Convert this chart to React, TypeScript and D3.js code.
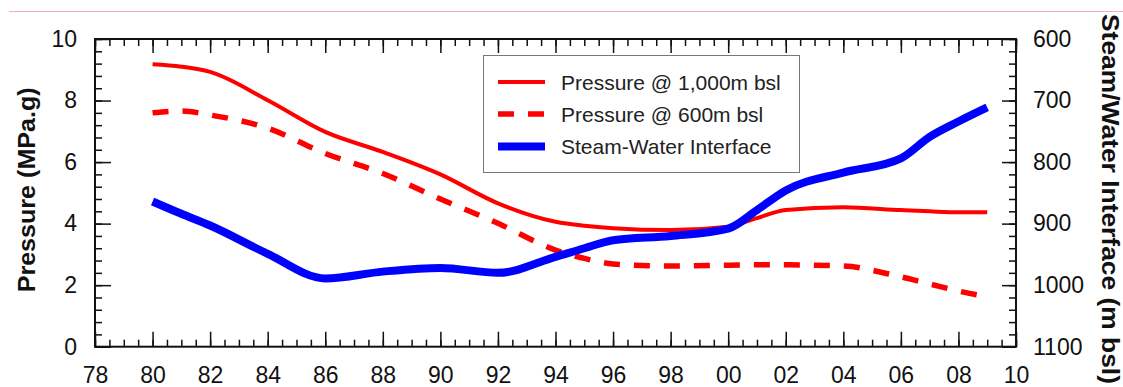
import { useEffect, useRef } from 'react'
import * as d3 from 'd3'

// values
const years = [
  1980, 1981, 1982, 1984, 1986, 1988, 1990, 1992, 1994, 1995, 1996, 1998, 2000,
  2001, 2002, 2004, 2006, 2007, 2008, 2009,
]
const pressure1000 = [
  9.18, 9.1, 8.93, 8.01, 6.98, 6.33, 5.6, 4.66, 4.06, 3.93, 3.85, 3.79, 3.9,
  4.18, 4.44, 4.53, 4.44, 4.4, 4.37, 4.37,
]
const pressure600 = [
  7.6, 7.66, 7.53, 7.1, 6.28, 5.63, 4.8, 4.01, 3.14, 2.87, 2.69, 2.62, 2.65,
  2.66, 2.66, 2.62, 2.27, 2.04, 1.81, 1.62,
]
const interfaceDepth = [
  864, 884, 903, 949, 989, 978, 972, 980, 954, 940, 927, 920, 908, 878, 846,
  817, 794, 759, 734, 711,
]

const xTicks = [
  1978, 1980, 1982, 1984, 1986, 1988, 1990, 1992, 1994, 1996, 1998, 2000, 2002,
  2004, 2006, 2008, 2010,
]
const leftTicks = [0, 2, 4, 6, 8, 10]
const rightTicks = [600, 700, 800, 900, 1000, 1100]

const legendItems = [
  { label: 'Pressure @ 1,000m bsl', color: '#ff0000', width: 4, dash: '' },
  { label: 'Pressure @ 600m bsl', color: '#ff0000', width: 5.5, dash: '16,14' },
  { label: 'Steam-Water Interface', color: '#0000ff', width: 8, dash: '' },
]

const width = 1123
const height = 387
const font = "'Liberation Sans', Arial, Helvetica, sans-serif"

export default function App() {
  const svgRef = useRef<SVGSVGElement>(null)

  useEffect(() => {
    if (!svgRef.current) return
    const svg = d3.select(svgRef.current)
    svg.selectAll('*').remove()

    const left = 95
    const right = 1016
    const top = 39
    const bottom = 346.7

    const x = d3.scaleLinear().domain([1978, 2010]).range([left, right])
    const yP = d3.scaleLinear().domain([0, 10]).range([bottom, top])
    const yD = d3.scaleLinear().domain([600, 1100]).range([top, bottom])

    // pink rule along the top of the page
    svg
      .append('line')
      .attr('x1', 9)
      .attr('x2', width)
      .attr('y1', 11.5)
      .attr('y2', 11.5)
      .attr('stroke', '#f4a6d8')
      .attr('stroke-width', 1)

    // Series
    const rows = years.map((yr, i) => ({
      year: yr,
      p1000: pressure1000[i],
      p600: pressure600[i],
      depth: interfaceDepth[i],
    }))
    type Row = (typeof rows)[number]

    const lineP1000 = d3
      .line<Row>()
      .x((d) => x(d.year))
      .y((d) => yP(d.p1000))
      .curve(d3.curveMonotoneX)
    const lineP600 = d3
      .line<Row>()
      .x((d) => x(d.year))
      .y((d) => yP(d.p600))
      .curve(d3.curveMonotoneX)
    const lineDepth = d3
      .line<Row>()
      .x((d) => x(d.year))
      .y((d) => yD(d.depth))
      .curve(d3.curveMonotoneX)

    svg
      .append('path')
      .datum(rows)
      .attr('fill', 'none')
      .attr('stroke', '#ff0000')
      .attr('stroke-width', 4)
      .attr('d', lineP1000)

    svg
      .append('path')
      .datum(rows)
      .attr('fill', 'none')
      .attr('stroke', '#ff0000')
      .attr('stroke-width', 5.5)
      .attr('stroke-dasharray', '16,14')
      .attr('d', lineP600)

    svg
      .append('path')
      .datum(rows)
      .attr('fill', 'none')
      .attr('stroke', '#0000ff')
      .attr('stroke-width', 8)
      .attr('d', lineDepth)

    // Frame
    svg
      .append('rect')
      .attr('x', left)
      .attr('y', top)
      .attr('width', right - left)
      .attr('height', bottom - top)
      .attr('fill', 'none')
      .attr('stroke', '#111')
      .attr('stroke-width', 2)

    const style = (g: d3.Selection<SVGGElement, unknown, null, undefined>) => {
      g.select('.domain').remove()
      g.selectAll('.tick line').attr('stroke', '#111').attr('stroke-width', 1.5)
      g.selectAll('.tick text')
        .attr('font-family', font)
        .attr('font-size', 23)
        .attr('fill', '#111')
    }

    const minorX = d3.range(1978, 2010.01, 0.5)
    const minorP = d3.range(0, 10.01, 0.4)
    const minorD = d3.range(600, 1100.1, 20)
    const noLabel = () => ''

    // Bottom
    svg
      .append('g')
      .attr('transform', `translate(0,${bottom})`)
      .call(d3.axisBottom(x).tickValues(minorX).tickSize(-7).tickFormat(noLabel))
      .call(style)
    svg
      .append('g')
      .attr('transform', `translate(0,${bottom})`)
      .call(
        d3
          .axisBottom(x)
          .tickValues(xTicks)
          .tickSize(-15)
          .tickPadding(19.5)
          .tickFormat((d) => String(Math.round(+d) % 100).padStart(2, '0'))
      )
      .call(style)

    // Top
    svg
      .append('g')
      .attr('transform', `translate(0,${top})`)
      .call(d3.axisTop(x).tickValues(minorX).tickSize(-7).tickFormat(noLabel))
      .call(style)
    svg
      .append('g')
      .attr('transform', `translate(0,${top})`)
      .call(d3.axisTop(x).tickValues(xTicks).tickSize(-14).tickFormat(noLabel))
      .call(style)

    // Left
    svg
      .append('g')
      .attr('transform', `translate(${left},0)`)
      .call(d3.axisLeft(yP).tickValues(minorP).tickSize(-7).tickFormat(noLabel))
      .call(style)
    svg
      .append('g')
      .attr('transform', `translate(${left},0)`)
      .call(
        d3
          .axisLeft(yP)
          .tickValues(leftTicks)
          .tickSize(-16)
          .tickPadding(18)
          .tickFormat(d3.format('d'))
      )
      .call(style)

    // Right
    svg
      .append('g')
      .attr('transform', `translate(${right},0)`)
      .call(d3.axisRight(yD).tickValues(minorD).tickSize(-7).tickFormat(noLabel))
      .call(style)
    svg
      .append('g')
      .attr('transform', `translate(${right},0)`)
      .call(
        d3
          .axisRight(yD)
          .tickValues(rightTicks)
          .tickSize(-14)
          .tickPadding(17)
          .tickFormat(d3.format('d'))
      )
      .call(style)

    // Axis titles
    svg
      .append('text')
      .attr('transform', `translate(35,${(top + bottom) / 2 - 3}) rotate(-90)`)
      .attr('text-anchor', 'middle')
      .attr('font-family', font)
      .attr('font-weight', 'bold')
      .attr('font-size', 24)
      .attr('fill', '#111')
      .attr('textLength', 205)
      .attr('lengthAdjust', 'spacingAndGlyphs')
      .text('Pressure (MPa.g)')

    svg
      .append('text')
      .attr('transform', `translate(1102,199) rotate(90)`)
      .attr('text-anchor', 'middle')
      .attr('font-family', font)
      .attr('font-weight', 'bold')
      .attr('font-size', 24)
      .attr('fill', '#111')
      .attr('textLength', 370)
      .attr('lengthAdjust', 'spacingAndGlyphs')
      .text('Steam/Water Interface (m bsl)')

    // Legend
    const legend = svg.append('g')
    legend
      .append('rect')
      .attr('x', 483.5)
      .attr('y', 55.5)
      .attr('width', 316)
      .attr('height', 117)
      .attr('fill', '#fff')
      .attr('stroke', '#777')
      .attr('stroke-width', 1)

    const rowY = [82, 114, 146.5]
    legendItems.forEach((item, i) => {
      legend
        .append('line')
        .attr('x1', 498)
        .attr('x2', 545)
        .attr('y1', rowY[i])
        .attr('y2', rowY[i])
        .attr('stroke', item.color)
        .attr('stroke-width', item.width)
        .attr('stroke-dasharray', item.dash || null)
      legend
        .append('text')
        .attr('x', 561)
        .attr('y', rowY[i] + 7.5)
        .attr('font-family', font)
        .attr('font-size', 21)
        .attr('fill', '#222')
        .text(item.label)
    })
  }, [])

  return (
    <svg
      ref={svgRef}
      width={width}
      height={height}
      style={{ position: 'absolute', left: 0, top: 0, display: 'block', background: '#fff' }}
    />
  )
}
